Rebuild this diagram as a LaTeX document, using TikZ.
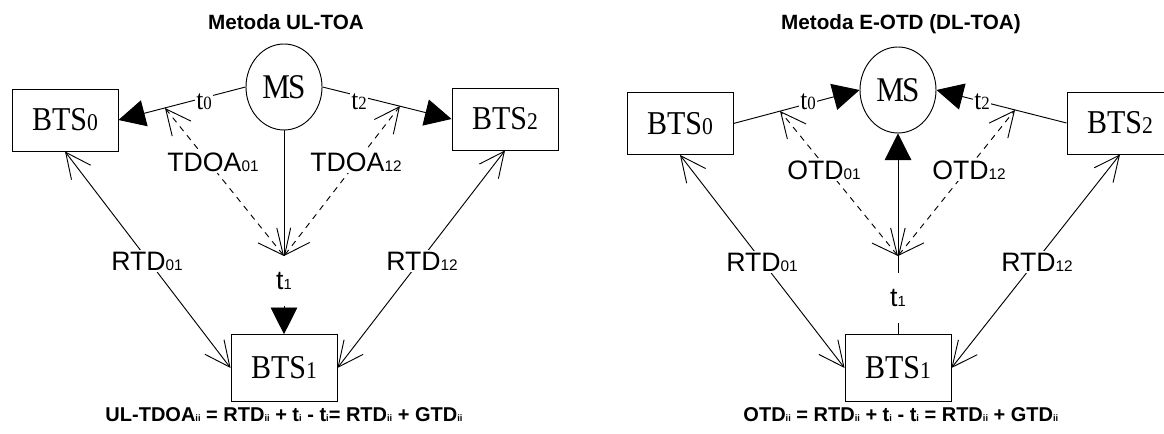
\documentclass[tikz,border=0pt]{standalone}
\usepackage{fontspec}
\setmainfont{Liberation Serif}
\setsansfont{Liberation Sans}
\newfontfamily\btsf{Liberation Serif}[FakeStretch=0.9]
\usetikzlibrary{arrows.meta,shapes.geometric}
\newcommand\btstext[1]{{\btsf\fontsize{25}{28}\selectfont BTS\fontsize{18}{20}\selectfont #1}}
\newcommand\mstext{{\btsf\fontsize{26}{28}\selectfont M\kern-1.5pt S}}
\newcommand\tser[1]{{\btsf\fontsize{21}{22}\selectfont t\fontsize{14}{16}\selectfont #1}}
\newcommand\tsan[1]{{\sffamily\fontsize{20}{22}\selectfont t\fontsize{11}{13}\selectfont #1}}
\newcommand\slab[2]{{\sffamily\fontsize{20}{22}\selectfont #1\fontsize{11.5}{13}\selectfont #2}}
\newcommand\fsub[1]{{\fontsize{7}{8}\selectfont #1}}
\begin{document}
\begin{tikzpicture}[x=0.75pt,y=-0.75pt,line width=0.7pt,
  box/.style={draw,minimum width=79.5pt,minimum height=46.5pt,inner sep=0pt},
  boxb/.style={box,minimum height=50pt},
  ms/.style={draw,ellipse,minimum width=57pt,minimum height=64.5pt,inner sep=0pt},
  lab/.style={fill=white,inner sep=1pt},
  barbs/.style={{Straight Barb[length=19pt,width=18pt]}-{Straight Barb[length=19pt,width=18pt]}},
  dashbarbs/.style={barbs,dash pattern=on 4.5pt off 4pt},
  tri/.style={-{Triangle[length=20pt,width=20pt]}},
  title/.style={font=\sffamily\bfseries\fontsize{15.5}{18}\selectfont,anchor=base,inner sep=0pt},
  formula/.style={font=\sffamily\bfseries\fontsize{15}{18}\selectfont,anchor=base west,inner sep=0pt}]
\useasboundingbox (0,0) rectangle (1164,434);

% ---------- left: UL-TOA ----------
\node[title] (TL) at (286,30) {Metoda UL-TOA};
\node[ms] (MSL) at (284,87) {\mstext};
\node[box] (B0L) at (65,120) {\btstext{0}};
\node[box] (B2L) at (505,119) {\btstext{2}};
\node[boxb] (B1L) at (284,368) {\btstext{1}};
\coordinate (JL) at (284,256);
\coordinate (AL) at (165,108);
\coordinate (BL) at (400,106);

\draw[tri] (MSL.west) -- (B0L.east);
\draw[tri] (MSL.east) -- (B2L.west);
\draw (MSL.south) -- (JL);
\node[lab] (t1L) at (284,281) {\tsan{1}};
\draw[tri,shorten <=11pt] (t1L.south) -- (B1L.north);
\node[lab] (t0L) at (204,102) {\tser{0}};
\node[lab] (t2L) at (359,102) {\tser{2}};

\draw[dashbarbs] (JL) -- (AL);
\draw[dashbarbs] (JL) -- (BL);
\node[lab] (d01L) at (213,162) {\slab{TDOA}{01}};
\node[lab] (d12L) at (356,162) {\slab{TDOA}{12}};

\draw[barbs] (B0L.south) -- (B1L.west);
\draw[barbs] (B2L.south) -- (B1L.east);
\node[lab] (r01L) at (147,261) {\slab{RTD}{01}};
\node[lab] (r12L) at (422,261) {\slab{RTD}{12}};

\node[formula] (FL) at (105,422) {UL-TDOA\fsub{ii} = RTD\fsub{ii} + t\fsub{i} - t\fsub{i}= RTD\fsub{ii} + GTD\fsub{ii}};

% ---------- right: E-OTD ----------
\node[title] (TR) at (901,30) {Metoda E-OTD (DL-TOA)};
\node[ms] (MSR) at (898,90) {\mstext};
\node[box] (B0R) at (680,123.5) {\btstext{0}};
\node[box] (B2R) at (1120,123) {\btstext{2}};
\node[boxb] (B1R) at (898,368) {\btstext{1}};
\coordinate (JR) at (898,256);
\coordinate (AR) at (780,111);
\coordinate (BR) at (1015,110);

\draw[tri] (B0R.east) -- (MSR.west);
\draw[tri] (B2R.west) -- (MSR.east);
\draw[tri] (B1R.north) -- (MSR.south);
\node[lab,minimum height=37.5pt] (t1R) at (898,298) {\tsan{1}};
\node[lab] (t0R) at (808,102) {\tser{0}};
\node[lab] (t2R) at (982,102) {\tser{2}};

\draw[dashbarbs] (JR) -- (AR);
\draw[dashbarbs] (JR) -- (BR);
\node[lab] (d01R) at (824,170) {\slab{OTD}{01}};
\node[lab] (d12R) at (969,170) {\slab{OTD}{12}};

\draw[barbs] (B0R.south) -- (B1R.west);
\draw[barbs] (B2R.south) -- (B1R.east);
\node[lab] (r01R) at (762,262) {\slab{RTD}{01}};
\node[lab] (r12R) at (1037,262) {\slab{RTD}{12}};

\node[formula] (FR) at (743,422) {OTD\fsub{ii} = RTD\fsub{ii} + t\fsub{i} - t\fsub{i} = RTD\fsub{ii} + GTD\fsub{ii}};
\end{tikzpicture}
\end{document}
